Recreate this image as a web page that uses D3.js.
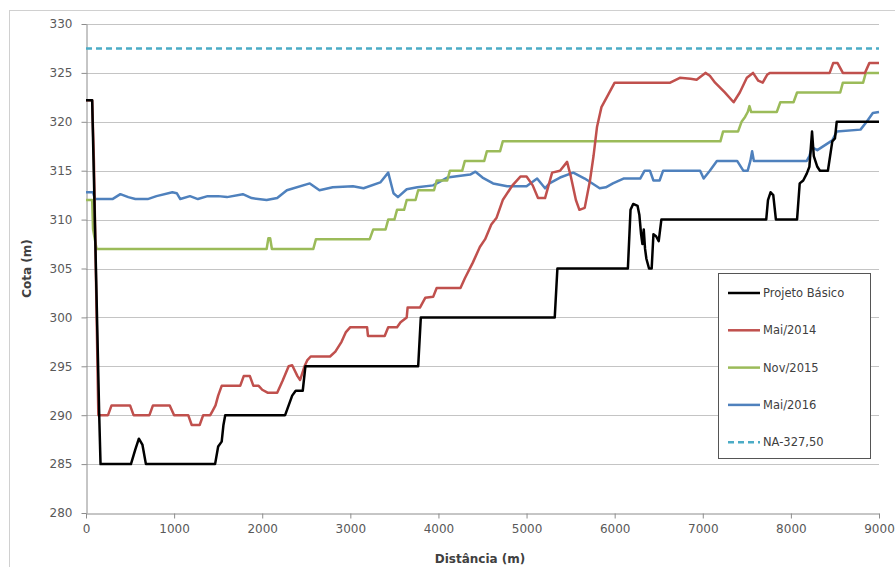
<!DOCTYPE html>
<html>
<head>
<meta charset="utf-8">
<script src="https://cdn.jsdelivr.net/npm/d3@7"></script>
<style>
  body { margin: 0; background: #fff; }
  svg { display: block; font-family: "DejaVu Sans", sans-serif; }
</style>
</head>
<body>
<svg id="chart" width="895" height="567"></svg>
<script>
// series: distance (m) and cota (m)
const projetoX = [0, 70, 150, 165, 510, 560, 600, 640, 680, 1465, 1500, 1540, 1560, 1580, 2260, 2340, 2380, 2460, 2490, 3770, 3800, 5320, 5350, 6150, 6180, 6210, 6260, 6280, 6300, 6315, 6330, 6345, 6360, 6390, 6420, 6440, 6470, 6500, 6530, 7720, 7740, 7770, 7800, 7830, 8070, 8100, 8140, 8180, 8210, 8240, 8260, 8300, 8330, 8420, 8470, 8500, 8520, 9000];
const projetoY = [322.2, 322.2, 290, 285, 285, 286.5, 287.6, 287, 285, 285, 286.8, 287.3, 289, 290, 290, 292, 292.5, 292.5, 295, 295, 300, 300, 305, 305, 311, 311.6, 311.4, 310.5, 308.5, 307.5, 309, 307, 306, 305, 305, 308.5, 308.3, 307.8, 310, 310, 312, 312.8, 312.5, 310, 310, 313.7, 314, 314.7, 315.4, 319, 316.5, 315.4, 315, 315, 318, 318.3, 320, 320];

const mai14X = [0, 70, 90, 140, 250, 290, 500, 540, 720, 760, 950, 1000, 1160, 1200, 1290, 1330, 1410, 1440, 1470, 1500, 1540, 1750, 1790, 1860, 1900, 1960, 2000, 2060, 2170, 2230, 2300, 2340, 2400, 2430, 2480, 2510, 2550, 2770, 2830, 2900, 2950, 3000, 3190, 3200, 3390, 3430, 3530, 3570, 3640, 3650, 3790, 3850, 3940, 3980, 4250, 4300, 4390, 4470, 4530, 4600, 4660, 4730, 4840, 4930, 5000, 5070, 5130, 5210, 5290, 5380, 5460, 5500, 5560, 5600, 5660, 5720, 5760, 5800, 5850, 5910, 6000, 6630, 6740, 6860, 6930, 7030, 7080, 7140, 7250, 7350, 7420, 7500, 7570, 7630, 7680, 7730, 7760, 8440, 8480, 8530, 8590, 8840, 8890, 9000];
const mai14Y = [322.2, 322.2, 316, 290, 290, 291, 291, 290, 290, 291, 291, 290, 290, 289, 289, 290, 290, 290.5, 291, 292, 293, 293, 294, 294, 293, 293, 292.6, 292.3, 292.3, 293.5, 295, 295.1, 294, 293.6, 295, 295.6, 296, 296, 296.5, 297.5, 298.5, 299, 299, 298.1, 298.1, 299, 299, 299.5, 300, 301, 301, 302, 302.1, 303, 303, 304, 305.6, 307.2, 308, 309.5, 310.2, 312, 313.5, 314.4, 314.4, 313.5, 312.2, 312.2, 314.8, 315, 315.9, 314.5, 312, 311, 311.2, 314, 316.5, 319.5, 321.5, 322.5, 324, 324, 324.5, 324.4, 324.3, 325, 324.7, 324, 323, 322, 323, 324.5, 325, 324.2, 324, 324.8, 325, 325, 326, 326, 325, 325, 326, 326];

const nov15X = [0, 70, 80, 120, 2050, 2070, 2090, 2110, 2580, 2610, 3220, 3260, 3400, 3430, 3500, 3530, 3610, 3640, 3740, 3770, 3950, 3980, 4100, 4130, 4270, 4300, 4520, 4550, 4700, 4730, 7200, 7230, 7400, 7440, 7480, 7510, 7530, 7550, 7840, 7880, 8030, 8070, 8560, 8590, 8820, 8850, 9000];
const nov15Y = [312, 312, 309, 307, 307, 308.1, 308.1, 307, 307, 308, 308, 309, 309, 310, 310, 311, 311, 312, 312, 313, 313, 314, 314, 315, 315, 316, 316, 317, 317, 318, 318, 319, 319, 320, 320.5, 321, 321.6, 321, 321, 322, 322, 323, 323, 324, 324, 325, 325];

const mai16X = [0, 80, 100, 300, 390, 480, 560, 700, 800, 980, 1030, 1070, 1180, 1270, 1380, 1500, 1600, 1780, 1880, 2050, 2170, 2280, 2540, 2650, 2800, 3030, 3150, 3340, 3430, 3490, 3540, 3640, 3760, 3940, 4100, 4360, 4420, 4500, 4620, 4780, 5000, 5120, 5210, 5260, 5380, 5530, 5660, 5830, 5900, 5980, 6100, 6290, 6340, 6400, 6440, 6510, 6550, 6970, 7010, 7080, 7160, 7390, 7460, 7510, 7540, 7560, 7580, 8180, 8210, 8240, 8300, 8470, 8520, 8790, 8860, 8930, 9000];
const mai16Y = [312.8, 312.8, 312.1, 312.1, 312.6, 312.3, 312.1, 312.1, 312.4, 312.8, 312.7, 312.1, 312.4, 312.1, 312.4, 312.4, 312.3, 312.6, 312.2, 312, 312.2, 313, 313.7, 313, 313.3, 313.4, 313.2, 313.8, 314.8, 312.7, 312.3, 313.1, 313.3, 313.5, 314.3, 314.6, 314.9, 314.3, 313.7, 313.4, 313.4, 314.2, 313.2, 313.7, 314.3, 314.8, 314.2, 313.2, 313.3, 313.7, 314.2, 314.2, 315, 315, 314, 314, 315, 315, 314.2, 315, 316, 316, 315, 315, 316, 317, 316, 316, 316.5, 317.4, 317.1, 318.1, 319, 319.2, 320, 320.9, 321];

const naLevel = 327.5;

const seriesNames = ["Projeto Básico", "Mai/2014", "Nov/2015", "Mai/2016", "NA-327,50"];
const xTicks = [0, 1000, 2000, 3000, 4000, 5000, 6000, 7000, 8000, 9000];
const yTicks = [280, 285, 290, 295, 300, 305, 310, 315, 320, 325, 330];

const svg = d3.select('#chart');

// outer chart frame
svg.append('rect')
  .attr('x', 9.5).attr('y', 10.5)
  .attr('width', 900).attr('height', 600)
  .attr('fill', '#fff')
  .attr('stroke', '#d0d0d0');

const x = d3.scaleLinear().domain([0, 9000]).range([86, 879]);
const y = d3.scaleLinear().domain([280, 330]).range([513, 24]);

// gridlines
svg.append('g')
  .selectAll('line')
  .data(yTicks.slice(1))
  .join('line')
  .attr('x1', x(0)).attr('x2', x(9000))
  .attr('y1', d => Math.round(y(d)) + 0.5)
  .attr('y2', d => Math.round(y(d)) + 0.5)
  .attr('stroke', '#c4c4c4');

const xAxis = svg.append('g')
  .attr('transform', `translate(0,${Math.round(y(280)) + 0.5})`)
  .call(d3.axisBottom(x).tickValues(xTicks).tickFormat(d3.format('d'))
    .tickSize(5).tickPadding(6).tickSizeOuter(0));

const yAxis = svg.append('g')
  .attr('transform', `translate(${Math.round(x(0)) + 0.5},0)`)
  .call(d3.axisLeft(y).tickValues(yTicks).tickFormat(d3.format('d'))
    .tickSize(5).tickPadding(9).tickSizeOuter(0));

[xAxis, yAxis].forEach(g => {
  g.select('.domain').attr('stroke', '#8c8c8c');
  g.selectAll('.tick line').attr('stroke', '#8c8c8c');
  g.selectAll('.tick text')
    .attr('fill', '#595959')
    .style('font-size', '12px')
    .style('font-family', '"DejaVu Sans", sans-serif');
});

// axis titles
svg.append('text')
  .attr('transform', `translate(31,${y(305)}) rotate(-90)`)
  .attr('text-anchor', 'middle')
  .attr('fill', '#404040')
  .style('font-size', '12px')
  .style('font-weight', 'bold')
  .text('Cota (m)');

svg.append('text')
  .attr('x', 480).attr('y', 563)
  .attr('text-anchor', 'middle')
  .attr('fill', '#404040')
  .style('font-size', '12px')
  .style('font-weight', 'bold')
  .text('Distância (m)');

const line = d3.line()
  .x(d => x(d[0]))
  .y(d => y(d[1]));

const series = [
  { xs: mai16X, ys: mai16Y, color: '#4f81bd' },
  { xs: nov15X, ys: nov15Y, color: '#9bbb59' },
  { xs: mai14X, ys: mai14Y, color: '#c0504d' },
  { xs: projetoX, ys: projetoY, color: '#000000' }
];

series.forEach(s => {
  svg.append('path')
    .datum(s.xs.map((d, i) => [d, s.ys[i]]))
    .attr('fill', 'none')
    .attr('stroke', s.color)
    .attr('stroke-width', 2.5)
    .attr('stroke-linejoin', 'round')
    .attr('d', line);
});

// NA level line
svg.append('path')
  .datum([[0, naLevel], [9000, naLevel]])
  .attr('fill', 'none')
  .attr('stroke', '#4bacc6')
  .attr('stroke-width', 2.5)
  .attr('stroke-dasharray', '6,4')
  .attr('d', line);

// legend
const legendColors = ['#000000', '#c0504d', '#9bbb59', '#4f81bd', '#4bacc6'];
const legend = svg.append('g');
legend.append('rect')
  .attr('x', 718.5).attr('y', 273.5)
  .attr('width', 152).attr('height', 185)
  .attr('fill', '#fff')
  .attr('stroke', '#555');

const items = legend.selectAll('g.item')
  .data(seriesNames)
  .join('g')
  .attr('transform', (d, i) => `translate(728,${293 + i * 37.3})`);

items.append('line')
  .attr('x1', 0).attr('x2', 32)
  .attr('stroke', (d, i) => legendColors[i])
  .attr('stroke-width', 2.5)
  .attr('stroke-dasharray', (d, i) => i === 4 ? '6,4' : null);

items.append('text')
  .attr('x', 35).attr('dy', '0.35em')
  .attr('fill', '#404040')
  .style('font-size', '11.5px')
  .text(d => d);
</script>
</body>
</html>
